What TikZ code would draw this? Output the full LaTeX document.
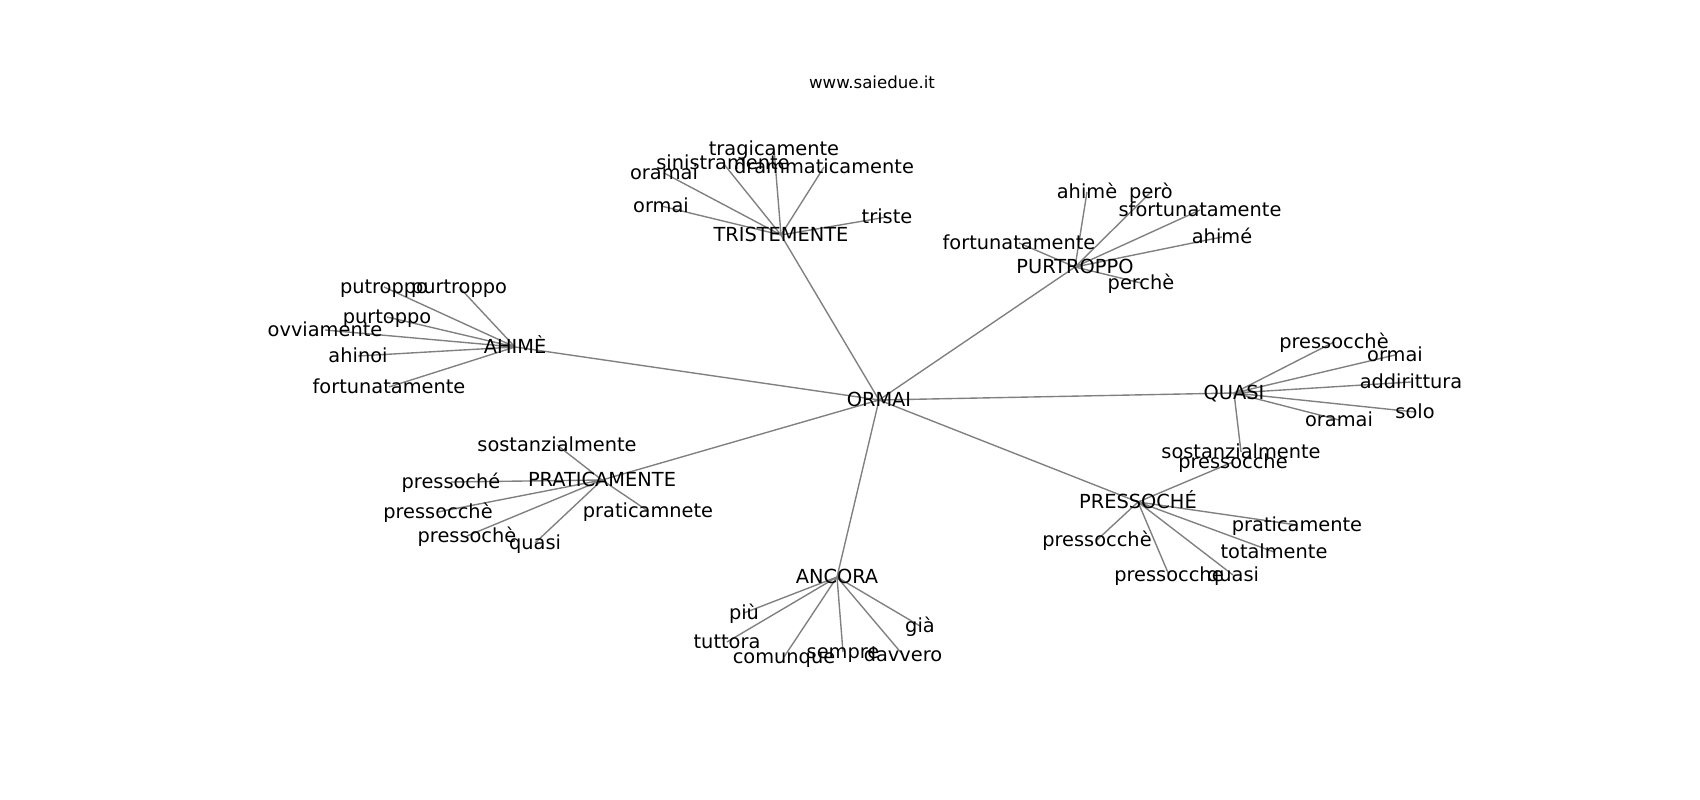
\documentclass[tikz,border=0pt]{standalone}
\usepackage{fontspec}
\setmainfont{DejaVu Sans}
\usepackage{tikz}
\usetikzlibrary{backgrounds}
\definecolor{edgeColor}{HTML}{808080}

\begin{document}
\begin{tikzpicture}[x=1in, y=1in,
    word/.style={inner sep=0pt, text height=10pt, text depth=0pt, font=\fontsize{14}{16}\selectfont},
    link/.style={draw=edgeColor, line width=1pt}]
      \useasboundingbox (0,0) rectangle (17,8);
      \node[inner sep=0pt, font=\fontsize{12}{14}\selectfont] (site) at (8.72,7.18) {www.saiedue.it};

      \node[word] (ormai) at (8.79,4.00) {ORMAI};

      \node[word] (trist) at (7.81,5.65) {TRISTEMENTE};
      \node[word] (trist1) at (7.74,6.51) {tragicamente};
      \node[word] (trist2) at (7.23,6.37) {sinistramente};
      \node[word] (trist3) at (8.24,6.33) {drammaticamente};
      \node[word] (trist4) at (6.64,6.27) {oramai};
      \node[word] (trist5) at (6.61,5.94) {ormai};
      \node[word] (trist6) at (8.87,5.83) {triste};

      \node[word] (purt) at (10.75,5.33) {PURTROPPO};
      \node[word] (purt1) at (10.87,6.08) {ahimè};
      \node[word] (purt2) at (11.51,6.08) {però};
      \node[word] (purt3) at (12.00,5.90) {sfortunatamente};
      \node[word] (purt4) at (12.22,5.63) {ahimé};
      \node[word] (purt5) at (10.19,5.57) {fortunatamente};
      \node[word] (purt6) at (11.41,5.17) {perchè};

      \node[word] (ahime) at (5.15,4.53) {AHIMÈ};
      \node[word] (ahime1) at (3.84,5.13) {putroppo};
      \node[word] (ahime2) at (4.59,5.13) {purtroppo};
      \node[word] (ahime3) at (3.87,4.83) {purtoppo};
      \node[word] (ahime4) at (3.25,4.70) {ovviamente};
      \node[word] (ahime5) at (3.58,4.44) {ahinoi};
      \node[word] (ahime6) at (3.89,4.13) {fortunatamente};

      \node[word] (prat) at (6.02,3.20) {PRATICAMENTE};
      \node[word] (prat1) at (5.57,3.55) {sostanzialmente};
      \node[word] (prat2) at (4.51,3.18) {pressoché};
      \node[word] (prat3) at (4.38,2.88) {pressocchè};
      \node[word] (prat4) at (4.67,2.64) {pressochè};
      \node[word] (prat5) at (5.35,2.57) {quasi};
      \node[word] (prat6) at (6.48,2.89) {praticamnete};

      \node[word] (quasi) at (12.34,4.07) {QUASI};
      \node[word] (quasi1) at (13.34,4.58) {pressocchè};
      \node[word] (quasi2) at (13.95,4.45) {ormai};
      \node[word] (quasi3) at (14.11,4.18) {addirittura};
      \node[word] (quasi4) at (14.15,3.88) {solo};
      \node[word] (quasi5) at (13.39,3.80) {oramai};
      \node[word] (quasi6) at (12.41,3.48) {sostanzialmente};

      \node[word] (press) at (11.38,2.98) {PRESSOCHÉ};
      \node[word] (press1) at (12.33,3.38) {pressocche};
      \node[word] (press2) at (10.97,2.60) {pressocchè};
      \node[word] (press3) at (12.97,2.75) {praticamente};
      \node[word] (press4) at (12.74,2.48) {totalmente};
      \node[word] (press5) at (11.69,2.25) {pressocche};
      \node[word] (press6) at (12.33,2.25) {quasi};

      \node[word] (ancora) at (8.37,2.23) {ANCORA};
      \node[word] (ancora1) at (7.44,1.87) {più};
      \node[word] (ancora2) at (7.27,1.58) {tuttora};
      \node[word] (ancora3) at (7.84,1.43) {comunque};
      \node[word] (ancora4) at (8.43,1.48) {sempre};
      \node[word] (ancora5) at (9.03,1.45) {davvero};
      \node[word] (ancora6) at (9.20,1.74) {già};

      \begin{scope}[on background layer]
        \draw[link] (ormai.center) -- (trist.center) (ormai.center) -- (purt.center)
          (ormai.center) -- (ahime.center) (ormai.center) -- (prat.center)
          (ormai.center) -- (quasi.center) (ormai.center) -- (press.center)
          (ormai.center) -- (ancora.center);
        \draw[link] (trist.center) -- (trist1.center) (trist.center) -- (trist2.center)
          (trist.center) -- (trist3.center) (trist.center) -- (trist4.center)
          (trist.center) -- (trist5.center) (trist.center) -- (trist6.center);
        \draw[link] (purt.center) -- (purt1.center) (purt.center) -- (purt2.center)
          (purt.center) -- (purt3.center) (purt.center) -- (purt4.center)
          (purt.center) -- (purt5.center) (purt.center) -- (purt6.center);
        \draw[link] (ahime.center) -- (ahime1.center) (ahime.center) -- (ahime2.center)
          (ahime.center) -- (ahime3.center) (ahime.center) -- (ahime4.center)
          (ahime.center) -- (ahime5.center) (ahime.center) -- (ahime6.center);
        \draw[link] (prat.center) -- (prat1.center) (prat.center) -- (prat2.center)
          (prat.center) -- (prat3.center) (prat.center) -- (prat4.center)
          (prat.center) -- (prat5.center) (prat.center) -- (prat6.center);
        \draw[link] (quasi.center) -- (quasi1.center) (quasi.center) -- (quasi2.center)
          (quasi.center) -- (quasi3.center) (quasi.center) -- (quasi4.center)
          (quasi.center) -- (quasi5.center) (quasi.center) -- (quasi6.center);
        \draw[link] (press.center) -- (press1.center) (press.center) -- (press2.center)
          (press.center) -- (press3.center) (press.center) -- (press4.center)
          (press.center) -- (press5.center) (press.center) -- (press6.center);
        \draw[link] (ancora.center) -- (ancora1.center) (ancora.center) -- (ancora2.center)
          (ancora.center) -- (ancora3.center) (ancora.center) -- (ancora4.center)
          (ancora.center) -- (ancora5.center) (ancora.center) -- (ancora6.center);
      \end{scope}
    \end{tikzpicture}
\end{document}
